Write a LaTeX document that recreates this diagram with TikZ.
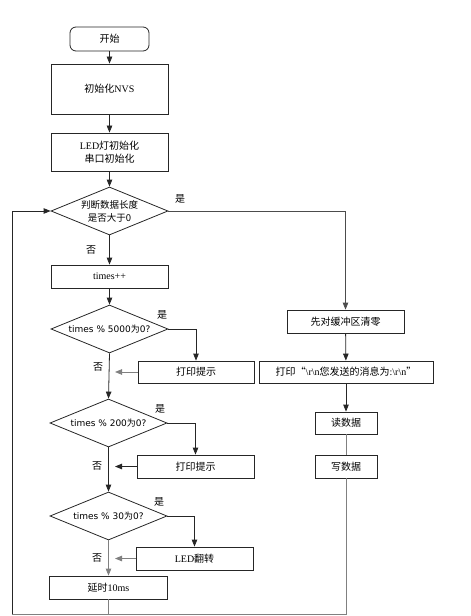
\documentclass[tikz,border=0pt]{standalone}
\usepackage{fontspec}
\setmainfont{Liberation Serif}
\newfontfamily\zhfont{Noto Sans CJK SC}
\newfontfamily\dvs{DejaVu Sans}
\newcommand{\zh}[1]{{\zhfont #1}}
\usetikzlibrary{shapes.geometric,arrows.meta}
\begin{document}
\begin{tikzpicture}[x=1bp,y=-1bp,
  every node/.style={font=\fontsize{10bp}{13bp}\selectfont, inner sep=0pt},
  procbox/.style={draw=black!85, line width=0.8bp, minimum width=#1, minimum height=23bp, align=center},
  procbox/.default=117bp,
  startbox/.style={draw=black!85, line width=0.8bp, rounded corners=6bp, minimum width=79bp, minimum height=24bp},
  decision/.style={draw=black!85, line width=0.8bp, shape=diamond, aspect=2.44, minimum width=117bp, minimum height=48bp, align=center, font=\dvs\fontsize{9bp}{12bp}\selectfont},
  lab/.style={font=\zhfont\fontsize{10bp}{12bp}\selectfont},
  conn/.style={line width=0.8bp, draw=black!85},
  arr/.style={conn, -{Triangle[length=7bp,width=5.5bp]}},
  garr/.style={arr, draw=black!50},
  gconn/.style={conn, draw=black!50}]
\useasboundingbox (0,0) rectangle (471,616);

% main column
\node[startbox] (start) at (109.5,39) {\zh{开始}};
\node[procbox, minimum height=50bp] (nvs) at (109.5,89) {\zh{初始化}NVS};
\node[procbox, minimum height=38bp] (led) at (109.5,152) {LED\zh{灯初始化}\\\zh{串口初始化}};
\node[decision, font=\zhfont\fontsize{9.5bp}{13bp}\selectfont] (d1) at (109.5,211) {判断数据长度\\是否大于0};
\node[procbox] (times) at (109.5,276.5) {times++};
\node[decision] (d2) at (109.5,329) {times \% 5000{\zhfont 为}0?};
\node[decision] (d3) at (108.5,423) {times \% 200{\zhfont 为}0?};
\node[decision] (d4) at (108.5,516) {times \% 30{\zhfont 为}0?};
\node[procbox, minimum width=118bp] (delay) at (108.5,587.5) {\zh{延时}10ms};

% side boxes
\node[procbox, minimum width=116bp, minimum height=22bp] (p1) at (196,372) {\zh{打印提示}};
\node[procbox, minimum width=117bp] (p2) at (195.5,466.5) {\zh{打印提示}};
\node[procbox, minimum width=117bp] (tog) at (194.5,558.5) {LED\zh{翻转}};

% right column
\node[procbox] (clr) at (345.5,321.5) {\zh{先对缓冲区清零}};
\node[procbox, minimum width=174bp, minimum height=22bp] (prn) at (346,372) {\zh{打印“}\textbackslash r\textbackslash n\zh{您发送的消息为}:\textbackslash r\textbackslash n\zh{”}};
\node[procbox, minimum width=62bp, minimum height=22bp] (rd) at (346,423) {\zh{读数据}};
\node[procbox, minimum width=62bp] (wr) at (346,466.5) {\zh{写数据}};

% coordinates
\coordinate (m1) at (115,372);
\coordinate (m2) at (115,466.5);
\coordinate (m3) at (115,558.5);
\coordinate (bl) at (12,614);
\coordinate (tl) at (12,211);
\coordinate (bm) at (108.5,614);
\coordinate (br) at (346,614);

% labels
\node[lab] (y1) at (180,199) {是};
\node[lab] (n1) at (91,250) {否};
\node[lab] (y2) at (162,315) {是};
\node[lab] (n2) at (98,367) {否};
\node[lab] (y3) at (160,409) {是};
\node[lab] (n3) at (97,466) {否};
\node[lab] (y4) at (159,502) {是};
\node[lab] (n4) at (97,558) {否};

% connectors
\draw[arr] (start) -- (nvs);
\draw[arr] (nvs) -- (led);
\draw[arr] (led) -- (d1);
\draw[arr] (d1) -- (times);
\draw[arr] (times) -- (d2);
\draw[arr] (d2.south) -- (d3.north);
\draw[arr] (d3.south) -- (d4.north);
\draw[garr] (d4.south) -- (delay.north);
\draw[arr] (d2.east) -| (p1.north);
\draw[arr] (d3.east) -| (p2.north);
\draw[arr] (d4.east) -| (tog.north);
\draw[garr] (p1.west) -- (m1);
\draw[arr] (p2.west) -- (m2);
\draw[garr] (tog.west) -- (m3);
\draw[gconn] (delay.south) -- (bm) -- (bl);
\draw[arr] (bl) -- (tl) -- (d1.west);
\draw[conn, draw=black!70, -{Triangle[length=7bp,width=5.5bp]}] (d1.east) -| (clr.north);
\draw[arr] (clr) -- (prn);
\draw[arr] (prn) -- (rd);
\draw[gconn] (rd) -- (wr);
\draw[gconn] (wr.south) -- (br) -- (bm);
\end{tikzpicture}
\end{document}
